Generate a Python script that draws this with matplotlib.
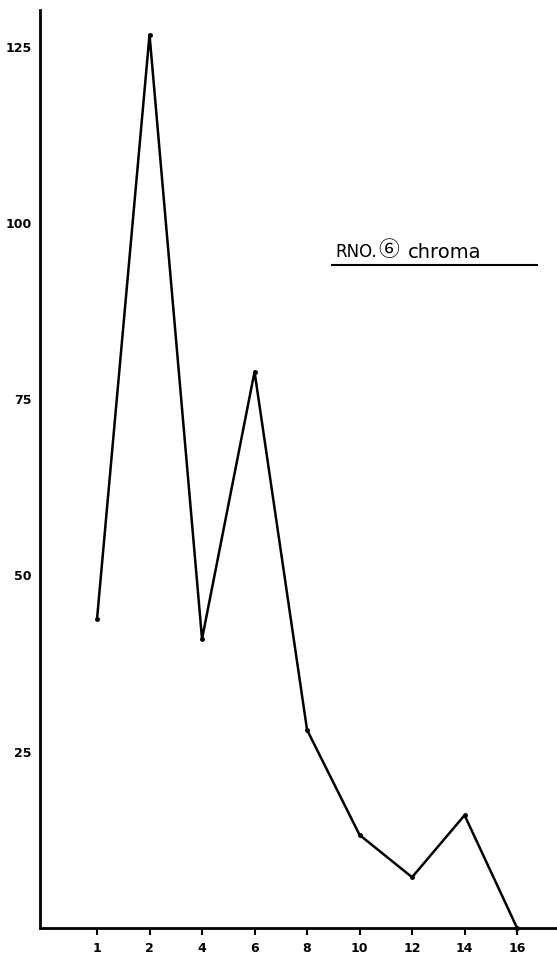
import matplotlib.pyplot as plt
from matplotlib.lines import Line2D

# data
x_labels = ["1", "2", "4", "6", "8", "10", "12", "14", "16"]
chroma = [43.8, 126.7, 41.0, 78.9, 28.1, 13.2, 7.2, 16.0, 0.0]
y_ticks = [25, 50, 75, 100, 125]

plt.rcParams['font.family'] = ['DejaVu Sans', 'Noto Sans CJK JP']

fig = plt.figure(figsize=(5.57, 9.56), dpi=100)
ax = fig.add_axes([0.0718, 0.0293, 0.9282, 0.9602])

x = list(range(len(x_labels)))
ax.plot(x, chroma, color="black", lw=1.8, marker="o", ms=2.5, clip_on=False)

ax.set_xlim(-1.086, 8.76)
ax.set_ylim(0, 130.2)

for s in ["top", "right"]:
    ax.spines[s].set_visible(False)
ax.spines["left"].set_linewidth(2)
ax.spines["bottom"].set_linewidth(2)

ax.set_xticks(x)
ax.set_xticklabels(x_labels, fontsize=9, fontweight="bold")
ax.tick_params(axis="x", direction="out", length=5, width=1.5, pad=5)
ax.set_yticks(y_ticks)
ax.set_yticklabels([str(v) for v in y_ticks], fontsize=9, fontweight="bold")
ax.tick_params(axis="y", length=0, pad=6)

# title label with underline
fig.text(0.603, 1 - 252 / 956, "RNO.", fontsize=12, ha="left", va="center")
fig.text(0.680, 1 - 250 / 956, "⑥", fontsize=15, ha="left", va="center",
         family=['Noto Sans CJK JP', 'DejaVu Sans'])
fig.text(0.733, 1 - 252 / 956, "chroma", fontsize=14, ha="left", va="center")
fig.add_artist(Line2D([332 / 557, 537 / 557], [1 - 265 / 956, 1 - 265 / 956],
                      color="black", lw=1.5))

fig.savefig("out.png", dpi=100)
